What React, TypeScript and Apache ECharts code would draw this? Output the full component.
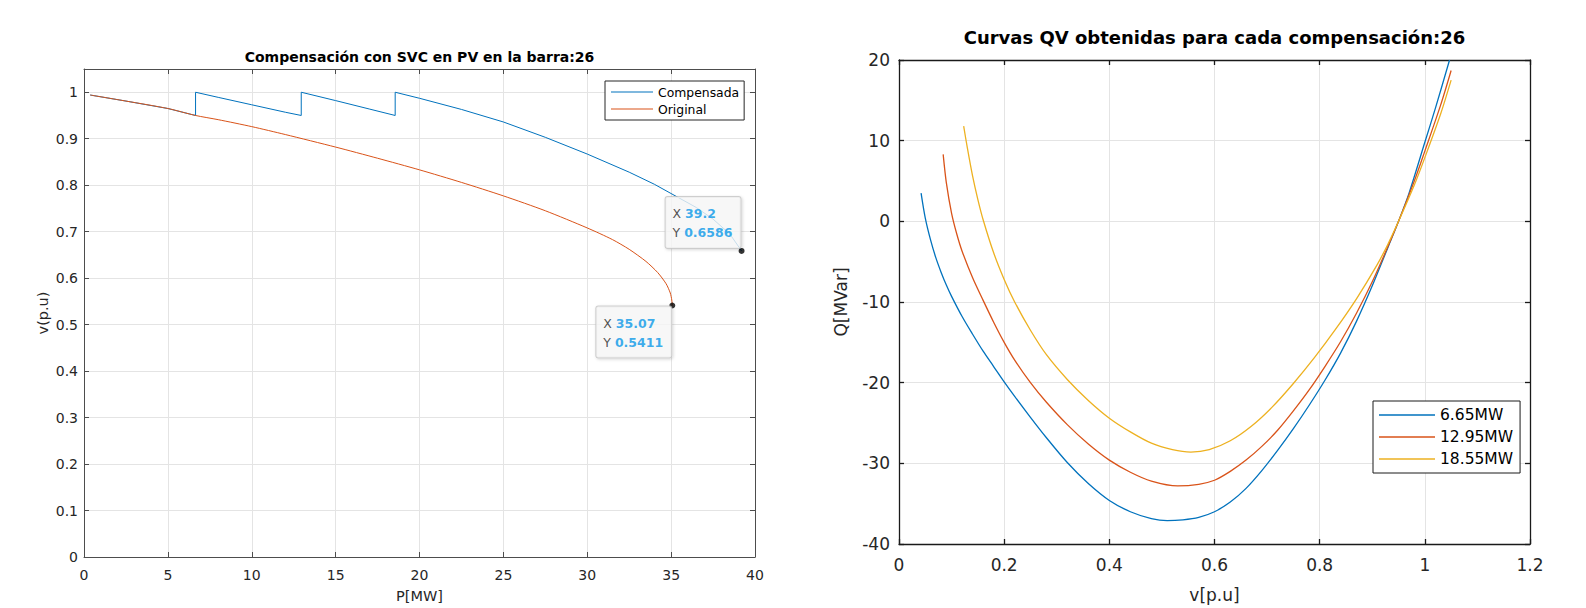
import React, { useEffect, useRef } from "react";
import * as echarts from "echarts";

const FONT = "'DejaVu Sans', 'Liberation Sans', Arial, sans-serif";

// ---------- Left chart: PV curves ----------
const leftTitle = "Compensación con SVC en PV en la barra:26";
const leftXName = "P[MW]";
const leftYName = "v(p.u)";
const compName = "Compensada";
const origName = "Original";

const compP = [0.37, 2.5, 5, 6.65, 6.65, 8, 10, 12, 12.95, 12.95, 15, 17, 18.55, 18.55, 20, 22.5, 25, 27.5, 30, 32.5, 34, 35.4, 36.5, 37.5, 38.5, 39.2];
const compV = [0.994, 0.981, 0.965, 0.95, 1.0, 0.989, 0.973, 0.957, 0.95, 1.0, 0.982, 0.964, 0.95, 1.0, 0.987, 0.963, 0.936, 0.903, 0.867, 0.828, 0.802, 0.774, 0.752, 0.727, 0.695, 0.6586];

const origP = [0.37, 2.5, 5, 6.65, 8, 10, 12, 15, 17.5, 20, 22.5, 25, 27.5, 30, 31.5, 32.5, 33.5, 34.2, 34.7, 34.95, 35.04, 35.07];
const origV = [0.994, 0.981, 0.965, 0.95, 0.941, 0.926, 0.909, 0.882, 0.858, 0.833, 0.806, 0.777, 0.745, 0.708, 0.683, 0.662, 0.636, 0.612, 0.588, 0.568, 0.553, 0.5411];

const tipP = [35.07, 39.2];
const tipV = [0.5411, 0.6586];

// ---------- Right chart: QV curves ----------
const rightTitle = "Curvas QV obtenidas para cada compensación:26";
const rightXName = "v[p.u]";
const rightYName = "Q[MVar]";
const qvNames = ["6.65MW", "12.95MW", "18.55MW"];

const qv1V = [0.042, 0.05, 0.06, 0.07, 0.08, 0.09, 0.1, 0.12, 0.14, 0.16, 0.18, 0.2, 0.22, 0.25, 0.28, 0.32, 0.36, 0.4, 0.44, 0.48, 0.51, 0.54, 0.57, 0.6, 0.63, 0.66, 0.69, 0.72, 0.75, 0.78, 0.81, 0.84, 0.87, 0.9, 0.93, 0.95, 0.97, 1.0, 1.02, 1.047];
const qv1Q = [3.5, 0.4, -2.3, -4.5, -6.3, -7.9, -9.3, -11.8, -14.0, -16.1, -18.0, -19.9, -21.7, -24.3, -26.8, -29.9, -32.5, -34.6, -36.0, -36.85, -37.1, -37.0, -36.7, -36.0, -34.8, -33.1, -30.9, -28.4, -25.7, -22.8, -19.7, -16.3, -12.4, -8.0, -3.2, 0, 3.5, 9.8, 14.0, 20.0];

const qv2V = [0.084, 0.09, 0.1, 0.11, 0.12, 0.14, 0.16, 0.18, 0.2, 0.22, 0.25, 0.28, 0.32, 0.36, 0.4, 0.44, 0.48, 0.53, 0.57, 0.6, 0.63, 0.66, 0.69, 0.72, 0.75, 0.78, 0.81, 0.84, 0.87, 0.9, 0.93, 0.95, 0.98, 1.0, 1.03, 1.05];
const qv2Q = [8.3, 4.8, 1.0, -1.6, -3.7, -7.0, -9.8, -12.5, -15.0, -17.2, -20.0, -22.4, -25.2, -27.6, -29.6, -31.1, -32.2, -32.8, -32.6, -32.1, -31.0, -29.6, -27.9, -25.9, -23.5, -20.9, -18.0, -14.9, -11.4, -7.5, -3.1, 0, 5.0, 8.7, 14.4, 18.7];

const qv3V = [0.123, 0.13, 0.14, 0.15, 0.16, 0.18, 0.2, 0.22, 0.25, 0.28, 0.32, 0.36, 0.4, 0.44, 0.48, 0.52, 0.555, 0.59, 0.63, 0.67, 0.71, 0.75, 0.79, 0.83, 0.87, 0.91, 0.93, 0.95, 0.98, 1.0, 1.03, 1.05];
const qv3Q = [11.8, 9.1, 5.6, 2.7, 0.2, -3.9, -7.2, -10.0, -13.5, -16.5, -19.6, -22.2, -24.4, -26.1, -27.5, -28.3, -28.6, -28.3, -27.2, -25.4, -23.0, -20.1, -16.9, -13.4, -9.6, -5.3, -2.8, 0, 4.5, 7.9, 13.3, 17.5];

const COLORS = ["#0072BD", "#D95319", "#EDB120"];

const zip = (a: number[], b: number[]) => a.map((x, i) => [x, b[i]]);
const fmt = (v: number) => String(Math.round(v * 100) / 100);

function buildOption() {
  const leftAxisColor = "#4d4d4d";
  const rightAxisColor = "#1a1a1a";
  const gridColor = "#e4e4e4";
  const textColor = "#262626";

  const mkAxis = (color: string, width: number) => ({
    axisLine: { show: true, onZero: false, lineStyle: { color, width } },
    axisTick: { show: true, inside: true, length: 5, lineStyle: { color, width } },
  });

  const tipData = tipP.map((p, i) => ({
    value: [p, tipV[i]],
    label: {
      position: i === 0 ? [-73, 4] : [-73, -51],
    },
  }));

  return {
    animation: false,
    backgroundColor: "#ffffff",
    grid: [
      { left: 84, top: 69, width: 671, height: 494, containLabel: false },
      { left: 899, top: 60, width: 631, height: 494, containLabel: false },
    ],
    graphic: [
      {
        type: "text",
        x: 419.5,
        y: 57,
        style: {
          text: leftTitle,
          fontFamily: FONT,
          fontSize: 14,
          fontWeight: "bold",
          fill: "#000",
          align: "center",
          verticalAlign: "middle",
        },
      },
      {
        type: "text",
        x: 1214.5,
        y: 37,
        style: {
          text: rightTitle,
          fontFamily: FONT,
          fontSize: 18,
          fontWeight: "bold",
          fill: "#000",
          align: "center",
          verticalAlign: "middle",
        },
      },
    ],
    legend: [
      {
        data: [compName, origName],
        orient: "vertical",
        left: 605,
        top: 81,
        padding: [5, 5, 5, 6],
        icon: "rect",
        itemWidth: 42,
        itemHeight: 1,
        itemGap: 5,
        borderColor: "#262626",
        borderWidth: 1,
        backgroundColor: "#ffffff",
        textStyle: { fontFamily: FONT, fontSize: 12.4, color: "#000" },
      },
      {
        data: qvNames,
        orient: "vertical",
        left: 1373,
        top: 401,
        padding: [6, 7, 6, 6],
        icon: "rect",
        itemWidth: 56,
        itemHeight: 1.3,
        itemGap: 6,
        borderColor: "#1a1a1a",
        borderWidth: 1,
        backgroundColor: "#ffffff",
        textStyle: { fontFamily: FONT, fontSize: 15.5, color: "#000" },
      },
    ],
    xAxis: [
      {
        gridIndex: 0,
        type: "value",
        position: "bottom",
        min: 0,
        max: 40,
        interval: 5,
        name: leftXName,
        nameLocation: "middle",
        nameGap: 31,
        nameTextStyle: { fontFamily: FONT, fontSize: 14.5, color: textColor },
        axisLabel: { fontFamily: FONT, fontSize: 14, color: textColor, margin: 11, formatter: fmt },
        splitLine: { show: true, lineStyle: { color: gridColor, width: 1 } },
        ...mkAxis(leftAxisColor, 1),
      },
      {
        gridIndex: 0,
        type: "value",
        position: "top",
        min: 0,
        max: 40,
        interval: 5,
        axisLabel: { show: false },
        splitLine: { show: false },
        ...mkAxis(leftAxisColor, 1),
      },
      {
        gridIndex: 1,
        type: "value",
        position: "bottom",
        min: 0,
        max: 1.2,
        interval: 0.2,
        name: rightXName,
        nameLocation: "middle",
        nameGap: 42,
        nameTextStyle: { fontFamily: FONT, fontSize: 17, color: textColor },
        axisLabel: { fontFamily: FONT, fontSize: 17, color: textColor, margin: 12, formatter: fmt },
        splitLine: { show: true, lineStyle: { color: gridColor, width: 1 } },
        ...mkAxis(rightAxisColor, 1.3),
      },
      {
        gridIndex: 1,
        type: "value",
        position: "top",
        min: 0,
        max: 1.2,
        interval: 0.2,
        axisLabel: { show: false },
        splitLine: { show: false },
        ...mkAxis(rightAxisColor, 1.3),
      },
    ],
    yAxis: [
      {
        gridIndex: 0,
        type: "value",
        position: "left",
        min: 0,
        max: 1.05,
        interval: 0.1,
        name: leftYName,
        nameLocation: "middle",
        nameGap: 34,
        nameTextStyle: { fontFamily: FONT, fontSize: 14.5, color: textColor },
        axisLabel: { fontFamily: FONT, fontSize: 14, color: textColor, margin: 6, formatter: fmt, showMaxLabel: false },
        splitLine: { show: true, lineStyle: { color: gridColor, width: 1 } },
        ...mkAxis(leftAxisColor, 1),
      },
      {
        gridIndex: 0,
        type: "value",
        position: "right",
        min: 0,
        max: 1.05,
        interval: 0.1,
        axisLabel: { show: false },
        splitLine: { show: false },
        ...mkAxis(leftAxisColor, 1),
      },
      {
        gridIndex: 1,
        type: "value",
        position: "left",
        min: -40,
        max: 20,
        interval: 10,
        name: rightYName,
        nameLocation: "middle",
        nameGap: 50,
        nameTextStyle: { fontFamily: FONT, fontSize: 17, color: textColor },
        axisLabel: { fontFamily: FONT, fontSize: 17, color: textColor, margin: 9, formatter: fmt },
        splitLine: { show: true, lineStyle: { color: gridColor, width: 1 } },
        ...mkAxis(rightAxisColor, 1.3),
      },
      {
        gridIndex: 1,
        type: "value",
        position: "right",
        min: -40,
        max: 20,
        interval: 10,
        axisLabel: { show: false },
        splitLine: { show: false },
        ...mkAxis(rightAxisColor, 1.3),
      },
    ],
    series: [
      {
        name: compName,
        type: "line",
        xAxisIndex: 0,
        yAxisIndex: 0,
        data: zip(compP, compV),
        symbol: "none",
        color: COLORS[0],
        lineStyle: { width: 1, color: COLORS[0] },
        z: 2,
      },
      {
        name: origName,
        type: "line",
        xAxisIndex: 0,
        yAxisIndex: 0,
        data: zip(origP, origV),
        symbol: "none",
        smooth: 0.25,
        color: COLORS[1],
        lineStyle: { width: 1, color: COLORS[1] },
        z: 3,
      },
      {
        name: "tips",
        type: "scatter",
        xAxisIndex: 0,
        yAxisIndex: 0,
        data: tipData,
        symbolSize: 6,
        itemStyle: { color: "#000" },
        z: 10,
        label: {
          show: true,
          formatter: (p: any) => `{k|X }{v|${p.value[0]}}\n{k|Y }{v|${p.value[1]}}`,
          backgroundColor: "rgba(250,250,250,0.97)",
          borderColor: "#c4c4c4",
          borderWidth: 1,
          borderRadius: 2,
          padding: [7, 6, 6, 7],
          width: 62,
          shadowColor: "rgba(0,0,0,0.18)",
          shadowBlur: 3,
          shadowOffsetX: 1,
          shadowOffsetY: 1,
          rich: {
            k: { fontFamily: FONT, fontSize: 12.5, color: "#262626", lineHeight: 19 },
            v: { fontFamily: FONT, fontSize: 12.5, fontWeight: "bold", color: "#0a98e8", lineHeight: 19 },
          },
        },
      },
      ...[zip(qv1V, qv1Q), zip(qv2V, qv2Q), zip(qv3V, qv3Q)].map((d, i) => ({
        name: qvNames[i],
        type: "line",
        xAxisIndex: 2,
        yAxisIndex: 2,
        data: d,
        symbol: "none",
        smooth: 0.3,
        color: COLORS[i],
        lineStyle: { width: 1.3, color: COLORS[i] },
      })),
    ],
  };
}

export default function App() {
  const ref = useRef<HTMLDivElement>(null);
  useEffect(() => {
    document.body.style.margin = "0";
    if (!ref.current) return;
    const chart = echarts.init(ref.current, undefined, { renderer: "svg" });
    chart.setOption(buildOption() as any);
    return () => chart.dispose();
  }, []);
  return (
    <div
      ref={ref}
      style={{ position: "absolute", left: 0, top: 0, width: 1586, height: 608, background: "#fff" }}
    />
  );
}
